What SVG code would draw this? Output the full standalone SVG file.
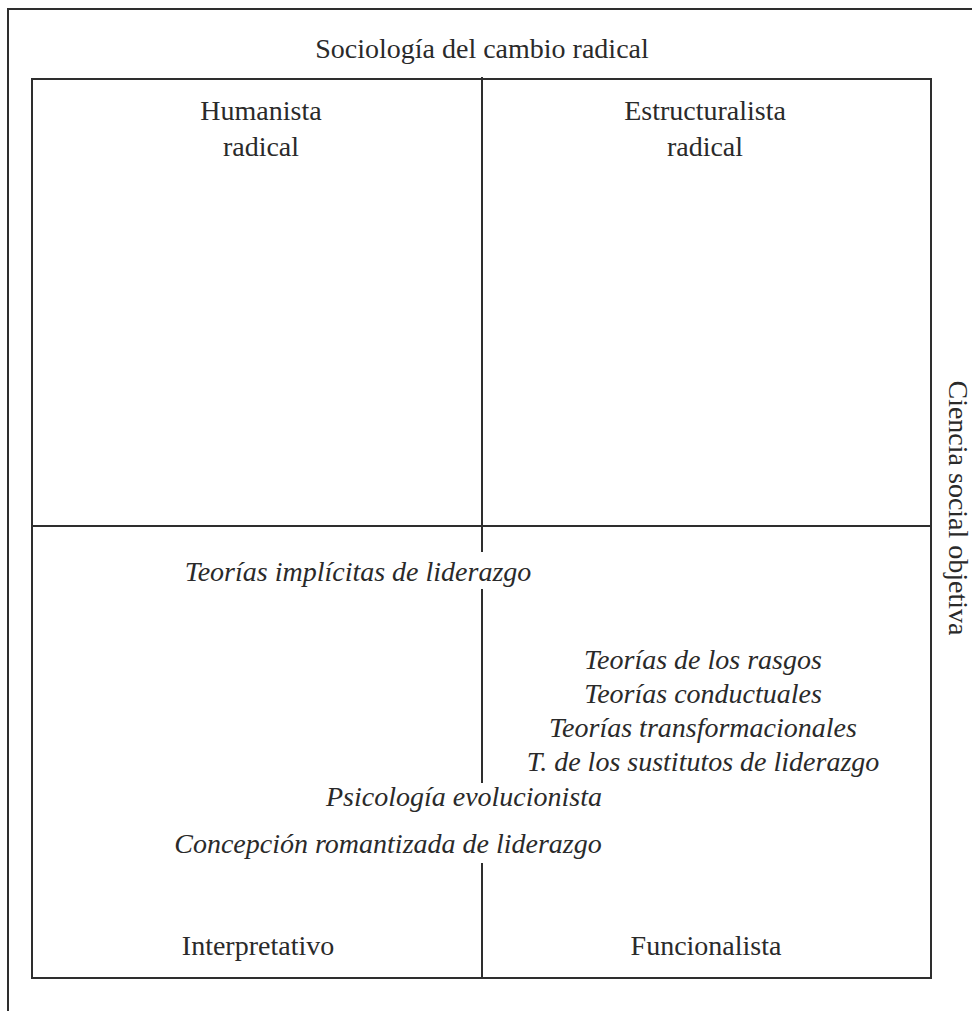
<svg xmlns="http://www.w3.org/2000/svg" width="972" height="1011" viewBox="0 0 972 1011">
<style>
.ln{stroke:#2e2e2e;stroke-width:2;fill:none}
.t{font-family:"Liberation Serif","Times New Roman",serif;font-size:28px;fill:#2a2a2a;text-anchor:middle}
.i{font-style:italic}
</style>
<rect width="972" height="1011" fill="#fff"/>
<g id="frame">
<path class="ln" d="M8 1011 V9 H972"/>
</g>
<g id="connectors">
<rect class="ln" x="32" y="79" width="899" height="899"/>
<line class="ln" x1="32" y1="526" x2="931" y2="526"/>
<line class="ln" x1="482" y1="77" x2="482" y2="552"/>
<line class="ln" x1="482" y1="589" x2="482" y2="783"/>
<line class="ln" x1="482" y1="863" x2="482" y2="978"/>
</g>
<g id="axis-top"><text class="t" x="482" y="58">Sociología del cambio radical</text></g>
<g id="axis-right"><text class="t" transform="translate(949,508) rotate(90)">Ciencia social objetiva</text></g>
<g id="q-humanista"><text class="t" x="261" y="120">Humanista</text><text class="t" x="261" y="156">radical</text></g>
<g id="q-estructuralista"><text class="t" x="705" y="120">Estructuralista</text><text class="t" x="705" y="156">radical</text></g>
<g id="q-interpretativo"><text class="t" x="258" y="955">Interpretativo</text></g>
<g id="q-funcionalista"><text class="t" x="706" y="955">Funcionalista</text></g>
<g id="implicitas"><text class="t i" x="358" y="581">Teorías implícitas de liderazgo</text></g>
<g id="funcionalistas">
<text class="t i" x="703" y="669">Teorías de los rasgos</text>
<text class="t i" x="703" y="703">Teorías conductuales</text>
<text class="t i" x="703" y="737">Teorías transformacionales</text>
<text class="t i" x="703" y="771">T. de los sustitutos de liderazgo</text>
</g>
<g id="evolucionista"><text class="t i" x="464" y="806">Psicología evolucionista</text></g>
<g id="romantizada"><text class="t i" x="388" y="853">Concepción romantizada de liderazgo</text></g>
</svg>
